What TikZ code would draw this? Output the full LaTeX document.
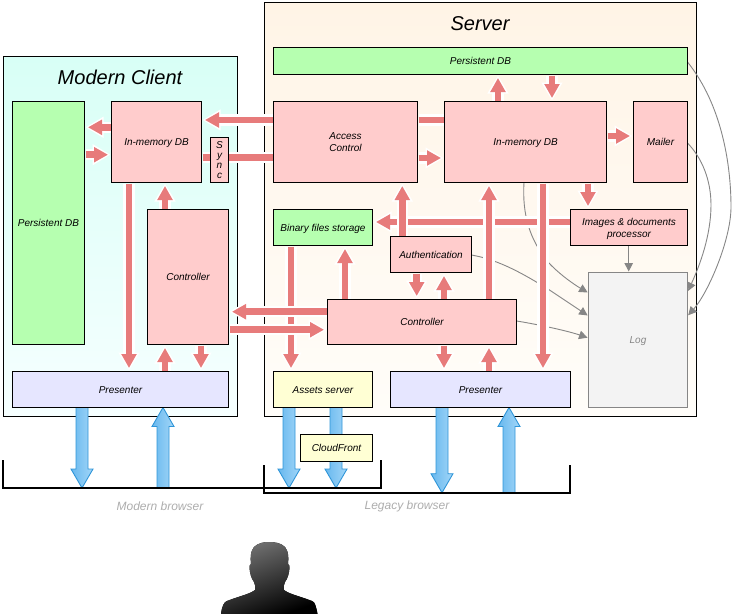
\documentclass[tikz,border=0pt]{standalone}
\usepackage{fontspec}
\setmainfont{Liberation Sans}
\usetikzlibrary{arrows.meta,calc}
\pgfdeclarelayer{back}
\pgfdeclarelayer{conn}
\pgfsetlayers{back,conn,main}
\definecolor{pinkfill}{HTML}{FFCCCC}
\definecolor{pinkarrow}{HTML}{E77B7B}
\definecolor{greenfill}{HTML}{B6FFB0}
\definecolor{lavfill}{HTML}{E6E6FF}
\definecolor{yelfill}{HTML}{FFFFD4}
\definecolor{logfill}{HTML}{F3F3F3}
\definecolor{bluearrow}{HTML}{2F95D8}
\definecolor{greyline}{HTML}{868686}
\definecolor{blueA}{HTML}{68B8EE}
\definecolor{blueB}{HTML}{A2D6F8}
\definecolor{clientA}{HTML}{D8FFF6}
\definecolor{clientB}{HTML}{F6FFFF}
\definecolor{serverA}{HTML}{FFF4E6}
\definecolor{serverB}{HTML}{FFFDF9}
\tikzset{
  boxbase/.style={draw=black,line width=1pt,inner sep=0pt,outer sep=0pt,align=center,
    font=\fontsize{10}{12}\selectfont\itshape},
  pinkbox/.style={boxbase,fill=pinkfill},
  greenbox/.style={boxbase,fill=greenfill},
  lavbox/.style={boxbase,fill=lavfill},
  yelbox/.style={boxbase,fill=yelfill},
  logbox/.style={boxbase,fill=logfill,draw=greyline,text=greyline},
  frame/.style={draw=black,line width=1pt},
  title/.style={font=\fontsize{20}{24}\selectfont\itshape,inner sep=0pt},
  browser/.style={font=\fontsize{12}{14}\selectfont\itshape,text=black!32,inner sep=0pt},
  parr/.style={line width=6.5pt,draw=pinkarrow,shorten >=3.5pt,shorten <=1pt,
    -{Triangle[width=14.5pt,length=14pt,fill=pinkarrow]},
    preaction={draw=white,line width=11.5pt,shorten >=1pt,shorten <=1pt,
      -{Triangle[width=20pt,length=18pt,fill=white,color=white]}}},
  pbar/.style={line width=6.5pt,draw=pinkarrow,shorten >=1pt,shorten <=1pt,
    preaction={draw=white,line width=11.5pt}},
  garr/.style={line width=.9pt,draw=greyline,-{Triangle[width=8.5pt,length=8.5pt,fill=greyline]},
    shorten >=1pt},
  gstem/.style={garr,line width=1pt},
  blarr/.style={draw=bluearrow,line width=.9pt,line join=miter,left color=blueA,right color=blueB},
  bracket/.style={draw=black,line width=1.7pt}
}
\newcommand\bx[7]{\node[#6,minimum width={#4-#2},minimum height={#5-#3}] (#1) at ({(#2+#4)/2},{(#3+#5)/2}) {\raisebox{-1.2pt}[\height][\depth]{\begin{tabular}{@{}c@{}}#7\end{tabular}}};}
\newcommand\bluarr[3]{\path[blarr] let \p1=(#1),\p2=(#2) in
  (\x1-6pt,\y1) -- (\x1-6pt,\y2+#3) -- (\x1-11pt,\y2+#3) -- (\x1,\y2) -- (\x1+11pt,\y2+#3) -- (\x1+6pt,\y2+#3) -- (\x1+6pt,\y1) -- cycle;}
\renewcommand\arraystretch{1}
\setlength\tabcolsep{0pt}
\begin{document}
\begin{tikzpicture}[x=1pt,y=-1pt]
\useasboundingbox (0,0) rectangle (732,614);
% frames
\begin{pgfonlayer}{back}
\path[frame,top color=clientA,bottom color=clientB,draw=black] (3.5,56.5) rectangle (237.5,416.5);
\path[frame,top color=serverA,bottom color=serverB,draw=black] (264.5,2.5) rectangle (696.5,416.5);
\end{pgfonlayer}
\node[title] (tclient) at (120,77) {Modern Client};
\node[title] (tserver) at (480,24) {Server};
% client
\bx{cpdb}{12.5}{101.5}{84.5}{344.5}{greenbox}{Persistent DB}
\bx{cim}{111.5}{101.5}{201.5}{182.5}{pinkbox}{In-memory DB}
\node[pinkbox,minimum width=18pt,minimum height=45pt,font=\fontsize{10}{10}\selectfont\itshape] (sync) at (219.5,160) {S\\y\\n\\c};
\bx{cct}{147.5}{209.5}{228.5}{344.5}{pinkbox}{Controller}
\bx{cpr}{12.5}{371.5}{228.5}{407.5}{lavbox}{Presenter}
% server
\bx{spdb}{273.5}{47.5}{687.5}{74.5}{greenbox}{Persistent DB}
\bx{ac}{273.5}{101.5}{417.5}{182.5}{pinkbox}{Access\\Control}
\bx{sim}{444.5}{101.5}{606.5}{182.5}{pinkbox}{In-memory DB}
\bx{mail}{633.5}{101.5}{687.5}{182.5}{pinkbox}{Mailer}
\bx{img}{570.5}{209.5}{687.5}{245.5}{pinkbox}{Images \& documents\\processor}
\bx{bin}{273.5}{209.5}{372.5}{245.5}{greenbox}{Binary files storage}
\bx{auth}{390.5}{236.5}{471.5}{272.5}{pinkbox}{Authentication}
\bx{sct}{327.5}{299.5}{516.5}{344.5}{pinkbox}{Controller}
\bx{spr}{390.5}{371.5}{570.5}{407.5}{lavbox}{Presenter}
\bx{log}{588.5}{272.5}{687.5}{407.5}{logbox}{Log}
\bx{ast}{273.5}{371.5}{372.5}{407.5}{yelbox}{Assets server}
\bx{cf}{300.5}{434.5}{372.5}{461.5}{yelbox}{CloudFront}
% browsers
\coordinate (mb) at (0,488);
\coordinate (lb) at (0,492.7);
\draw[bracket] (3,460) -- (3,0 |- mb) -- (381,0 |- mb) -- (381,460);
\draw[bracket] (264,465) -- (264,0 |- lb) -- (570,0 |- lb) -- (570,465);
\node[browser] (lmb) at (160,506) {Modern browser};
\node[browser] (llb) at (407,506) {Legacy browser};
\begin{pgfonlayer}{conn}
% grey curves to log
\draw[gstem] (628.7,0 |- img.south) -- (628.7,0 |- log.north);
\draw[garr] (524,0 |- sim.south) .. controls (522,215) and (530,240) .. (548,262) .. controls (560,275) and (575,285) .. (log.west |- 0,293);
\draw[garr] (auth.east |- 0,255) .. controls (500,260) and (525,275) .. (548,289) .. controls (560,297) and (575,307) .. (log.west |- 0,316);
\draw[garr] (sct.east |- 0,321) .. controls (530,323) and (565,330) .. (log.west |- 0,338);
\draw[garr] (spdb.east |- 0,62) .. controls (722,105) and (731,165) .. (731,207) .. controls (731,240) and (708,293) .. (log.east |- 0,316);
\draw[garr] (mail.east |- 0,143) .. controls (702,158) and (711,180) .. (711,205) .. controls (711,235) and (700,265) .. (log.east |- 0,292);
% pink: client
\draw[parr] (cim.west |- 0,127.3) -- (cpdb.east |- 0,127.3);
\draw[parr] (cpdb.east |- 0,154.7) -- (cim.west |- 0,154.7);
\draw[parr] (129,0 |- cim.south) -- (129,0 |- cpr.north);
\draw[parr] (165,0 |- cct.north) -- (165,0 |- cim.south);
\draw[parr] (165,0 |- cpr.north) -- (165,0 |- cct.south);
\draw[parr] (201,0 |- cct.south) -- (201,0 |- cpr.north);
% pink: storage, then cross links
\draw[parr] (291,0 |- bin.south) -- (291,0 |- ast.north);
\draw[parr] (345,0 |- sct.north) -- (345,0 |- bin.south);
\draw[parr] (ac.west |- 0,120) -- (cim.east |- 0,120);
\draw[pbar] (cim.east |- 0,157.7) -- (ac.west |- 0,157.7);
\draw[parr] (sct.west |- 0,311.7) -- (cct.east |- 0,311.7);
\draw[parr] (cct.east |- 0,329.7) -- (sct.west |- 0,329.7);
% pink: server
\draw[parr] (498,0 |- sim.north) -- (498,0 |- spdb.south);
\draw[parr] (552,0 |- spdb.south) -- (552,0 |- sim.north);
\draw[pbar] (ac.east |- 0,120) -- (sim.west |- 0,120);
\draw[parr] (ac.east |- 0,158) -- (sim.west |- 0,158);
\draw[parr] (sim.east |- 0,136) -- (mail.west |- 0,136);
\draw[parr] (588,0 |- sim.south) -- (588,0 |- img.north);
\draw[parr] (img.west |- 0,222) -- (bin.east |- 0,222);
\draw[parr] (543,0 |- sim.south) -- (543,0 |- spr.north);
\draw[parr] (489,0 |- sct.north) -- (489,0 |- sim.south);
\draw[parr] (402.3,0 |- auth.north) -- (402.3,0 |- ac.south);
\draw[parr] (416.7,0 |- auth.south) -- (416.7,0 |- sct.north);
\draw[parr] (444,0 |- sct.north) -- (444,0 |- auth.south);
\draw[parr] (444,0 |- sct.south) -- (444,0 |- spr.north);
\draw[parr] (489,0 |- spr.north) -- (489,0 |- sct.south);
% blue
\bluarr{82,0 |- cpr.south}{82,0 |- mb}{19pt}
\bluarr{163,0 |- mb}{163,0 |- cpr.south}{-19pt}
\bluarr{289,0 |- ast.south}{289,0 |- mb}{19pt}
\bluarr{336,0 |- ast.south}{336,0 |- mb}{19pt}
\bluarr{442,0 |- spr.south}{442,0 |- lb}{19pt}
\bluarr{509,0 |- lb}{509,0 |- spr.south}{-19pt}
\end{pgfonlayer}
% person
\fill[top color=black!55,bottom color=black,shading angle=20]
  (221,614) .. controls (222,606) and (224,602) .. (227,601)
  .. controls (240,596) and (250,594) .. (255,590)
  .. controls (256,587) and (255,585) .. (254,582)
  .. controls (251,578) and (250,573) .. (249.5,568)
  .. controls (249,566) and (250,565) .. (251,564)
  .. controls (250.5,558) and (250,552) .. (254,547)
  .. controls (258,543) and (264,542) .. (269,542)
  .. controls (275,542) and (281,543) .. (285,547)
  .. controls (289,552) and (288.5,558) .. (288,564)
  .. controls (289,565) and (290,566) .. (289.5,568)
  .. controls (289,573) and (288,578) .. (285,582)
  .. controls (284,585) and (283,587) .. (284,590)
  .. controls (289,594) and (299,596) .. (312,601)
  .. controls (315,602) and (316,606) .. (317.5,614) -- cycle;
\end{tikzpicture}
\end{document}
